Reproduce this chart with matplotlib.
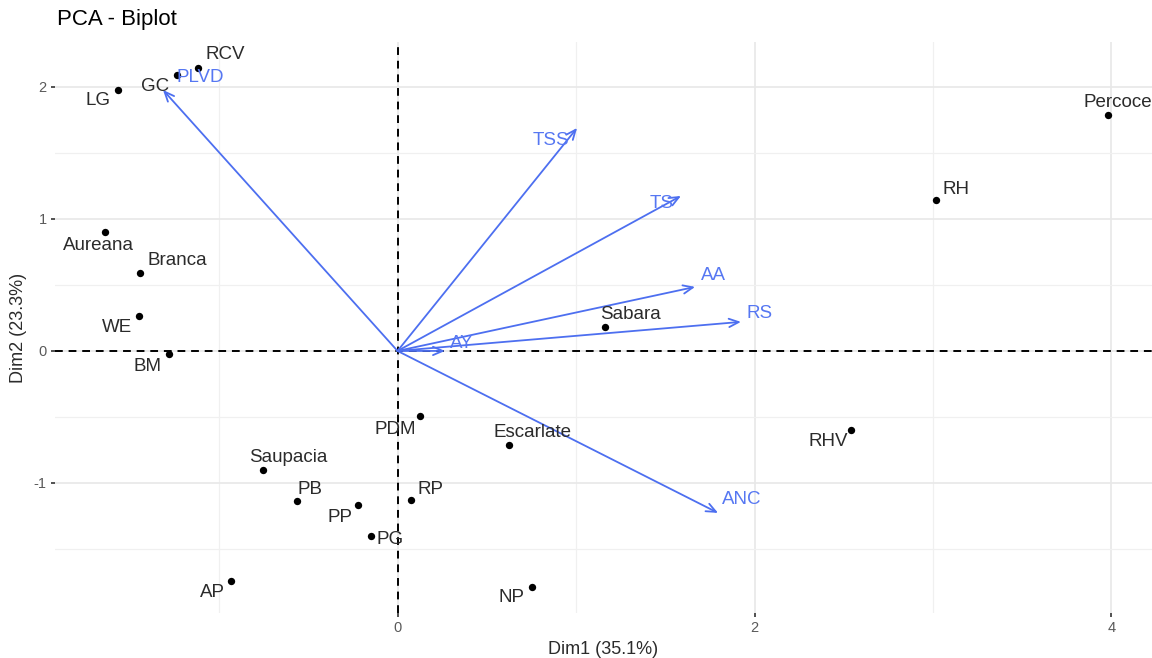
import matplotlib
matplotlib.use("Agg")
import matplotlib.pyplot as plt

plt.rcParams['font.family'] = ['Liberation Sans', 'DejaVu Sans']

# Individuals (Dim1, Dim2)
ind_names = ["RCV", "GC", "LG", "Aureana", "Branca", "WE", "BM", "Saupacia", "PB", "PP",
             "PG", "AP", "PDM", "RP", "Escarlate", "NP", "Sabara", "RHV", "RH", "Percoce"]
ind_x = [-1.118, -1.235, -1.566, -1.639, -1.443, -1.448, -1.280, -0.753, -0.563, -0.222,
         -0.148, -0.933, 0.126, 0.076, 0.625, 0.753, 1.162, 2.540, 3.016, 3.980]
ind_y = [2.144, 2.090, 1.977, 0.900, 0.590, 0.265, -0.020, -0.900, -1.136, -1.167,
         -1.400, -1.742, -0.490, -1.130, -0.710, -1.790, 0.180, -0.600, 1.140, 1.790]
# label anchor positions (data units)
ind_lab_x = [-0.966, -1.359, -1.678, -1.678, -1.235, -1.571, -1.398, -0.613, -0.490, -0.322,
             -0.042, -1.039, -0.014, 0.182, 0.759, 0.641, 1.303, 2.412, 3.129, 4.036]
ind_lab_y = [2.242, 2.000, 1.900, 0.795, 0.682, 0.174, -0.121, -0.810, -1.053, -1.258,
             -1.432, -1.826, -0.598, -1.053, -0.621, -1.871, 0.273, -0.689, 1.220, 1.879]

# Variables (arrow tips)
var_names = ["PLVD", "TSS", "TS", "AA", "RS", "AY", "ANC"]
var_x = [-1.314, 1.006, 1.588, 1.667, 1.924, 0.266, 1.796]
var_y = [1.977, 1.689, 1.174, 0.485, 0.220, 0.000, -1.227]
var_lab_x = [-1.106, 0.860, 1.482, 1.768, 2.031, 0.361, 1.930]
var_lab_y = [2.068, 1.591, 1.114, 0.568, 0.280, 0.053, -1.129]

title = "PCA - Biplot"
xlabel = "Dim1 (35.1%)"
ylabel = "Dim2 (23.3%)"
x_major = [0, 2, 4]
x_minor = [-1, 1, 3]
y_major = [-1, 0, 1, 2]
y_minor = [-1.5, -0.5, 0.5, 1.5]

blue = "#4d6ff0"
blue_txt = "#5677f2"
txt = "#2b2b2b"

fig = plt.figure(figsize=(11.52, 6.58), dpi=100)
ax = fig.add_axes([55/1152, 1-613/658, 1-55/1152, (613-42)/658])
ax.set_xlim(-1.919, 4.227)
ax.set_ylim(-1.985, 2.34)

for s in ax.spines.values():
    s.set_visible(False)

# grid
for v in x_major:
    ax.axvline(v, color="#e8e8e8", lw=1.2, zorder=0)
for v in x_minor:
    ax.axvline(v, color="#f0f0f0", lw=0.9, zorder=0)
for v in y_major:
    ax.axhline(v, color="#e8e8e8", lw=1.2, zorder=0)
for v in y_minor:
    ax.axhline(v, color="#f0f0f0", lw=0.9, zorder=0)

ax.axhline(0, color="black", lw=1.4, ls=(0, (4, 3)), zorder=1)
ax.axvline(0, color="black", lw=1.4, ls=(0, (4, 3)), zorder=1)

# points
ax.scatter(ind_x, ind_y, s=28, color="black", zorder=3, linewidths=0)
for n, lx, ly in zip(ind_names, ind_lab_x, ind_lab_y):
    ax.text(lx, ly, n, ha="center", va="center", fontsize=13.5, color=txt, zorder=4,
            clip_on=False)

# arrows
for n, vx, vy, lx, ly in zip(var_names, var_x, var_y, var_lab_x, var_lab_y):
    ax.annotate("", xy=(vx, vy), xytext=(0, 0),
                arrowprops=dict(arrowstyle="->,head_length=0.7,head_width=0.3",
                                color=blue, lw=1.3, shrinkA=0, shrinkB=0), zorder=2)
    ax.text(lx, ly, n, ha="center", va="center", fontsize=13.5, color=blue_txt, zorder=4)

ax.set_xticks(x_major)
ax.set_yticks(y_major)
ax.set_xticklabels([str(v) for v in x_major])
ax.set_yticklabels([str(v) for v in y_major])
ax.tick_params(axis="both", labelcolor="#5a5a5a", labelsize=10.5, length=3, width=1.2,
               pad=3, color="#333333")

ax.set_xlabel(xlabel, fontsize=13, color=txt, labelpad=4)
ax.set_ylabel(ylabel, fontsize=13, color=txt, labelpad=5)
fig.text(57/1152, 1-20/658, title, fontsize=16, color="black", ha="left", va="center")

fig.savefig("out.png", dpi=100)
